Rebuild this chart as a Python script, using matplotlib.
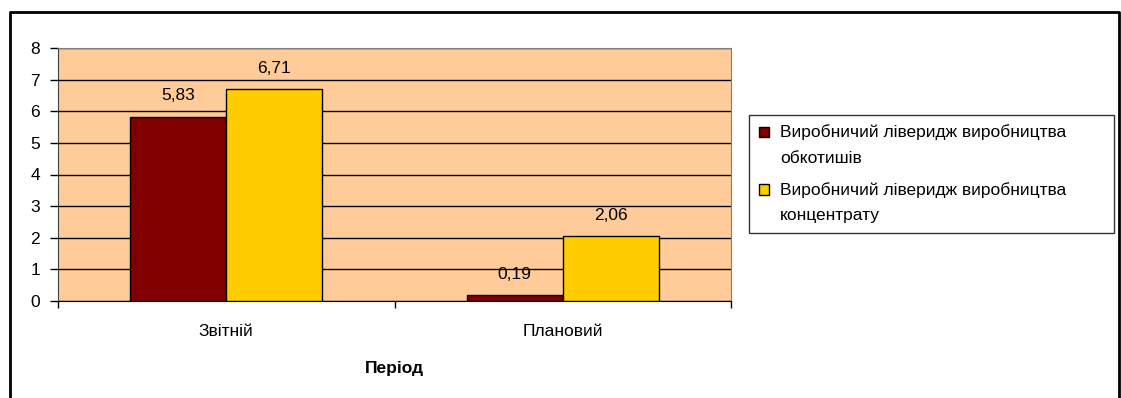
import matplotlib
matplotlib.use("Agg")
import matplotlib.pyplot as plt
from matplotlib.lines import Line2D
from matplotlib.patches import Rectangle
from matplotlib.container import BarContainer
from matplotlib.legend_handler import HandlerPatch, update_from_first_child
import numpy as np

plt.rcParams["font.family"] = ["Liberation Sans", "DejaVu Sans"]

# data
periods = ["Звітній", "Плановий"]
series_names = [
    "Виробничий ліверидж виробництва\nобкотишів",
    "Виробничий ліверидж виробництва\nконцентрату",
]
pellets = [5.83, 0.19]
concentrate = [6.71, 2.06]
value_labels = [["5,83", "0,19"], ["6,71", "2,06"]]

colors = ["#800000", "#FFCC00"]
W, H = 1121, 398
fs = 12.5

fig = plt.figure(figsize=(W / 100, H / 100), dpi=100)
ax = fig.add_axes([58 / W, 1 - 301 / H, (731 - 58) / W, (301 - 48) / H])
ax.set_facecolor("#FFCC99")

x = np.arange(len(periods))
bw = 0.286
for i, (vals, name) in enumerate(zip([pellets, concentrate], series_names)):
    pos = x + (i - 0.5) * bw
    bars = ax.bar(pos, vals, bw, color=colors[i], edgecolor="black",
                  linewidth=1, label=name, zorder=3)
    for b, txt in zip(bars, value_labels[i]):
        ax.annotate(txt, (b.get_x() + b.get_width() / 2, b.get_height()),
                    xytext=(0, 9.5), textcoords="offset points",
                    ha="center", va="bottom", fontsize=fs)

ax.set_xlim(-0.5, 1.5)
ax.set_ylim(0, 8)
ax.set_yticks(range(0, 9))
ax.yaxis.grid(True, color="black", linewidth=1, zorder=0)
ax.set_axisbelow(True)

# category ticks sit on the boundaries, labels in the middle
ax.set_xticks([-0.5, 0.5, 1.5])
ax.set_xticklabels([])
ax.set_xticks(x, minor=True)
ax.set_xticklabels(periods, minor=True)
ax.tick_params(axis="x", which="major", direction="out", length=5,
               width=1, color="black")
ax.tick_params(axis="x", which="minor", length=0, pad=16.5, labelsize=fs)
ax.tick_params(axis="y", direction="out", length=6, width=1, pad=7,
               labelsize=fs)

for side in ["top", "right"]:
    ax.spines[side].set_color("#808080")
ax.spines["left"].set_color("#404040")
ax.spines["bottom"].set_color("black")

ax.set_xlabel("Період", fontsize=fs, fontweight="bold", labelpad=16)


def first_line_square(legend, orig_handle, xdescent, ydescent,
                      width, height, fontsize):
    # lift the swatch so it lines up with the first text line
    return Rectangle((-xdescent, -ydescent + 9.5), width, height)


# legend stretched to a fixed box on the right
leg = fig.legend(loc="upper left", mode="expand",
                 bbox_to_anchor=(749 / W, 1 - 115 / H, 365 / W, 0),
                 frameon=True, fancybox=False, edgecolor="black",
                 fontsize=fs, handlelength=0.58, handleheight=0.58,
                 handletextpad=0.65, labelspacing=0.9, borderpad=0.55,
                 borderaxespad=0,
                 handler_map={BarContainer: HandlerPatch(
                     patch_func=first_line_square,
                     update_func=update_from_first_child)})
leg.get_frame().set_linewidth(1)
for t in leg.get_texts():
    t.set_linespacing(1.9)

# outer chart frame
fx = [10 / W, 10 / W, 1119 / W, 1119 / W]
fy = [0, 1 - 12 / H, 1 - 12 / H, 0]
fig.add_artist(Line2D(fx, fy, color="black", linewidth=2,
                      transform=fig.transFigure))

fig.savefig("out.png", dpi=100)
